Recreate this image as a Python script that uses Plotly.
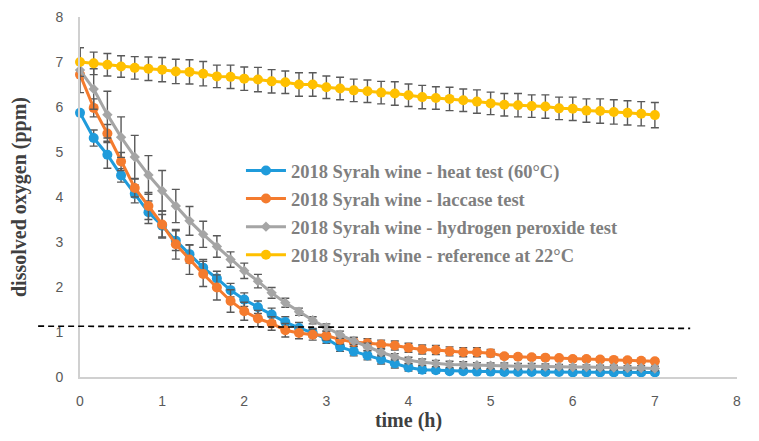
import plotly.graph_objects as go
import numpy as np

# sampling every 10 minutes, 0 to 7 h
time_h = np.arange(43) / 6

heat_60c = [5.87, 5.31, 4.94, 4.48, 4.07, 3.66, 3.36, 3.03, 2.73, 2.43,
            2.19, 1.93, 1.72, 1.55, 1.39, 1.22, 1.09, 0.98, 0.85, 0.67,
            0.57, 0.48, 0.39, 0.30, 0.21, 0.16, 0.15, 0.13, 0.13, 0.12,
            0.12, 0.11, 0.11, 0.11, 0.11, 0.11, 0.10, 0.10, 0.10, 0.10,
            0.10, 0.10, 0.10]
heat_err = [0.05, 0.18, 0.30, 0.15, 0.20, 0.25, 0.25, 0.22, 0.20, 0.18,
            0.16, 0.15, 0.15, 0.14, 0.14, 0.12, 0.12, 0.10, 0.10, 0.10,
            0.10, 0.10, 0.10, 0.10, 0.08, 0.08, 0.06, 0.05, 0.05, 0.05,
            0.05, 0.05, 0.05, 0.05, 0.05, 0.05, 0.05, 0.05, 0.05, 0.05,
            0.05, 0.05, 0.05]

laccase = [6.72, 5.98, 5.41, 4.79, 4.20, 3.80, 3.39, 2.95, 2.61, 2.29,
           1.99, 1.69, 1.46, 1.30, 1.19, 1.04, 0.98, 0.94, 0.92, 0.83,
           0.78, 0.75, 0.72, 0.70, 0.65, 0.61, 0.60, 0.57, 0.55, 0.55,
           0.53, 0.46, 0.45, 0.44, 0.43, 0.42, 0.40, 0.40, 0.39, 0.38,
           0.37, 0.36, 0.35]
laccase_err = [0.10, 0.20, 0.20, 0.20, 0.20, 0.30, 0.30, 0.33, 0.33, 0.28,
               0.28, 0.25, 0.20, 0.18, 0.15, 0.15, 0.13, 0.12, 0.10, 0.10,
               0.10, 0.10, 0.10, 0.10, 0.10, 0.10, 0.10, 0.10, 0.10, 0.10,
               0.08, 0.05, 0.05, 0.05, 0.05, 0.05, 0.05, 0.05, 0.05, 0.05,
               0.05, 0.05, 0.05]

peroxide = [6.82, 6.40, 5.83, 5.33, 4.89, 4.49, 4.14, 3.80, 3.47, 3.17,
            2.90, 2.61, 2.36, 2.13, 1.87, 1.65, 1.45, 1.26, 1.10, 0.94,
            0.80, 0.67, 0.55, 0.45, 0.37, 0.33, 0.30, 0.28, 0.27, 0.26,
            0.25, 0.25, 0.24, 0.24, 0.23, 0.23, 0.22, 0.22, 0.21, 0.21,
            0.20, 0.20, 0.19]
peroxide_err = [0.50, 0.45, 0.52, 0.45, 0.48, 0.43, 0.45, 0.37, 0.32, 0.29,
                0.24, 0.17, 0.17, 0.15, 0.12, 0.10, 0.08, 0.08, 0.08, 0.08,
                0.08, 0.08, 0.08, 0.07, 0.07, 0.07, 0.07, 0.07, 0.07, 0.06,
                0.06, 0.06, 0.06, 0.06, 0.06, 0.05, 0.05, 0.05, 0.05, 0.05,
                0.05, 0.05, 0.05]

reference_22c = [7.00, 6.97, 6.94, 6.90, 6.87, 6.85, 6.83, 6.79, 6.78, 6.74,
                 6.68, 6.67, 6.63, 6.61, 6.57, 6.55, 6.50, 6.50, 6.44, 6.41,
                 6.37, 6.35, 6.32, 6.30, 6.26, 6.22, 6.20, 6.18, 6.15, 6.12,
                 6.08, 6.05, 6.04, 6.02, 6.01, 5.97, 5.96, 5.92, 5.91, 5.89,
                 5.87, 5.85, 5.82]
reference_err = [0.32, 0.25, 0.25, 0.24, 0.25, 0.26, 0.27, 0.27, 0.27, 0.27,
                 0.25, 0.26, 0.26, 0.27, 0.26, 0.25, 0.26, 0.26, 0.25, 0.25,
                 0.25, 0.25, 0.25, 0.26, 0.25, 0.26, 0.25, 0.26, 0.25, 0.26,
                 0.25, 0.25, 0.26, 0.25, 0.26, 0.25, 0.26, 0.26, 0.27, 0.27,
                 0.27, 0.27, 0.28]

# dashed threshold line drawn by hand on the chart (x in h, y in ppm)
threshold_x = [-0.51, 7.43]
threshold_y = [1.13, 1.08]

x_range = [0, 8]
y_range = [0, 8]

series = [
    ("2018 Syrah wine - heat test (60°C)", heat_60c, heat_err, "#1F9BDB", "circle", 10),
    ("2018 Syrah wine - laccase test", laccase, laccase_err, "#F47B2E", "circle", 10),
    ("2018 Syrah wine - hydrogen peroxide test", peroxide, peroxide_err, "#A5A5A5", "diamond", 8),
    ("2018 Syrah wine - reference at 22°C", reference_22c, reference_err, "#FFC000", "circle", 10),
]

fig = go.Figure()

for i, (name, vals, err, color, symbol, size) in enumerate(series):
    fig.add_trace(go.Scatter(
        x=time_h, y=vals, name=name, mode="lines+markers",
        legendgroup=f"g{i}",
        line=dict(color=color, width=3),
        marker=dict(color=color, symbol=symbol, size=size),
        error_y=dict(type="data", array=err, visible=True,
                     color="#595959", thickness=1.4, width=4),
        cliponaxis=False,
    ))

# convert the hand-drawn line to paper coords so it can run past the axis
def to_paper(v, rng):
    return (v - rng[0]) / (rng[1] - rng[0])

fig.add_shape(
    type="line", xref="paper", yref="paper",
    x0=to_paper(threshold_x[0], x_range), x1=to_paper(threshold_x[1], x_range),
    y0=to_paper(threshold_y[0], y_range), y1=to_paper(threshold_y[1], y_range),
    line=dict(color="black", width=1.6, dash="6px,4px"),
)

axis_font = dict(family="Liberation Sans, Arial", size=14, color="#595959")
title_font = dict(family="Liberation Serif, Times New Roman", size=20, color="#404040")

# page body has an 8px margin, so margins are offset to put the plot area in place
fig.update_layout(
    width=759, height=441,
    margin=dict(l=72, r=30, t=9, b=72),
    paper_bgcolor="white", plot_bgcolor="white",
    showlegend=True,
    legend=dict(
        x=0.245, y=0.625, xanchor="left", yanchor="top",
        bgcolor="rgba(0,0,0,0)", tracegroupgap=1,
        font=dict(family="Liberation Serif, Times New Roman", size=18.5,
                  color="#7F7F7F", weight="bold"),
        itemwidth=40,
    ),
    xaxis=dict(
        range=x_range, dtick=1, showgrid=False, zeroline=False,
        showline=True, linecolor="#D0D0D0", linewidth=2, automargin=False,
        ticks="", ticklabelstandoff=10, tickfont=axis_font,
        title=dict(text="<b>time (h)</b>", font=title_font, standoff=5),
    ),
    yaxis=dict(
        range=y_range, dtick=1, showgrid=False, zeroline=False,
        showline=True, linecolor="#D0D0D0", linewidth=2, automargin=False,
        ticks="", ticklabelstandoff=12, tickfont=axis_font,
        title=dict(text="<b>dissolved oxygen (ppm)</b>", font=title_font, standoff=28),
    ),
)

fig.write_html("out.html")
